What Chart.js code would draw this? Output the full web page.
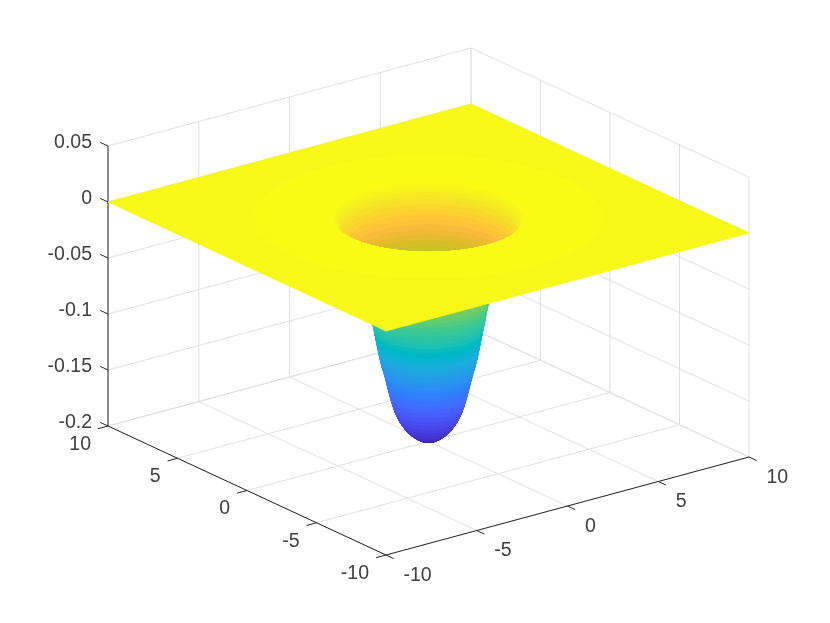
<!DOCTYPE html>
<html>
<head>
<meta charset="utf-8">
<title>Surface</title>
<script src="https://cdn.jsdelivr.net/npm/chart.js@4/dist/chart.umd.js"></script>
<style>
  html, body { margin: 0; padding: 0; background: #fff; }
  canvas { display: block; }
</style>
</head>
<body>
<canvas id="surfaceChart" width="830" height="623"></canvas>
<script>
// tick values and labels
const xTicks = [-10, -5, 0, 5, 10];
const yTicks = [-10, -5, 0, 5, 10];
const zTicks = [-0.2, -0.15, -0.1, -0.05, 0, 0.05];
const xTickLabels = ['-10', '-5', '0', '5', '10'];
const yTickLabels = ['-10', '-5', '0', '5', '10'];
const zTickLabels = ['-0.2', '-0.15', '-0.1', '-0.05', '0', '0.05'];

const ringRadius = [
  0, 0.4, 0.58, 0.84, 1.03, 1.18, 1.3, 1.4, 1.48, 1.55, 1.61, 1.67, 1.72, 1.77,
  1.82, 1.87, 1.92, 1.98, 2.04, 2.09, 2.14, 2.18, 2.22, 2.26, 2.3, 2.34, 2.38,
  2.42, 2.46, 2.495, 2.53, 2.575, 2.62, 2.66, 2.7, 2.76, 2.83, 2.93, 3.03, 3.12,
  3.26, 3.34, 3.42, 3.5, 3.57, 3.64, 3.7, 3.78, 3.86, 3.92, 3.99, 4.05, 4.11,
  4.17, 4.25, 4.5, 7.6
];
const ringHeight = [
  -0.2, -0.198, -0.196, -0.192, -0.188, -0.184, -0.18, -0.176, -0.172, -0.168,
  -0.164, -0.16, -0.156, -0.152, -0.148, -0.144, -0.14, -0.136, -0.132, -0.128,
  -0.124, -0.12, -0.116, -0.112, -0.108, -0.104, -0.1, -0.096, -0.092, -0.088,
  -0.084, -0.08, -0.076, -0.072, -0.068, -0.064, -0.06, -0.056, -0.052, -0.048,
  -0.044, -0.04, -0.036, -0.032, -0.028, -0.024, -0.02, -0.016, -0.012, -0.009,
  -0.006, -0.004, -0.002, -0.001, -0.0003, 0, 0
];
// level the colour of the outer flat part is taken from
const sheetLevel = -0.0015;

// parula, 64 steps
const parula = [
  [0.2422, 0.1504, 0.6603], [0.2504, 0.165, 0.7076], [0.2578, 0.1818, 0.7511], [0.2647, 0.1978, 0.7952],
  [0.2706, 0.2147, 0.8364], [0.2751, 0.2342, 0.871], [0.2783, 0.2559, 0.8991], [0.2803, 0.2782, 0.9221],
  [0.2813, 0.3006, 0.9414], [0.281, 0.3228, 0.9579], [0.2795, 0.3447, 0.9717], [0.276, 0.3667, 0.9829],
  [0.2699, 0.3892, 0.9906], [0.2602, 0.4123, 0.9952], [0.244, 0.4358, 0.9988], [0.2206, 0.4603, 0.9973],
  [0.1963, 0.4847, 0.9892], [0.1834, 0.5074, 0.9798], [0.1786, 0.5289, 0.9682], [0.1764, 0.5499, 0.952],
  [0.1687, 0.5703, 0.9359], [0.154, 0.5902, 0.9218], [0.146, 0.6091, 0.9079], [0.138, 0.6276, 0.8973],
  [0.1248, 0.6459, 0.8883], [0.1113, 0.6635, 0.8763], [0.0952, 0.6798, 0.8598], [0.0689, 0.6948, 0.8394],
  [0.0297, 0.7082, 0.8163], [0.0036, 0.7203, 0.7917], [0.0067, 0.7312, 0.766], [0.0433, 0.7411, 0.7394],
  [0.0964, 0.75, 0.712], [0.1408, 0.7584, 0.6842], [0.1717, 0.767, 0.6554], [0.1938, 0.7758, 0.6251],
  [0.2161, 0.7843, 0.5923], [0.247, 0.7918, 0.5567], [0.2906, 0.7973, 0.5188], [0.3406, 0.8008, 0.4789],
  [0.3909, 0.8029, 0.4354], [0.4456, 0.8024, 0.3909], [0.5044, 0.7993, 0.348], [0.5616, 0.7942, 0.3045],
  [0.6174, 0.7876, 0.2612], [0.672, 0.7793, 0.2227], [0.7242, 0.7698, 0.191], [0.7738, 0.7598, 0.1646],
  [0.8203, 0.7498, 0.1535], [0.8634, 0.7406, 0.1596], [0.9035, 0.733, 0.1774], [0.9393, 0.7288, 0.21],
  [0.9728, 0.7298, 0.2394], [0.9956, 0.7434, 0.2371], [0.997, 0.7659, 0.2199], [0.9952, 0.7893, 0.2028],
  [0.9892, 0.8136, 0.1885], [0.9786, 0.8386, 0.1766], [0.9676, 0.8639, 0.1643], [0.961, 0.889, 0.1537],
  [0.9597, 0.9135, 0.1423], [0.9628, 0.9373, 0.1265], [0.9691, 0.9606, 0.1064], [0.9769, 0.9839, 0.0805]
];

const ZMIN = -0.2;
const ZMAX = 0.05;
const LIMIT = 10;
const ARC_STEPS = 48;
const GRID_COLOR = '#e0e0e0';
const AXIS_COLOR = '#262626';
const TICK_LENGTH = 0.55;

// view of the box, fixed by its corners in the picture
function project(x, y, z) {
  return {
    x: 428.5 + x * 18.15 - y * 13.9,
    y: 217.5 - x * 4.9 - y * 6.45 - z * 1120,
  };
}

function colorFor(z) {
  const t = Math.min(1, Math.max(0, (z - ZMIN) / -ZMIN)) * (parula.length - 1);
  const i = Math.min(parula.length - 2, Math.floor(t));
  const f = t - i;
  const c = parula[i].map((v, k) => Math.round((v + (parula[i + 1][k] - v) * f) * 255));
  return `rgb(${c[0]}, ${c[1]}, ${c[2]})`;
}

function lineDataset(a, b, color, width) {
  return {
    data: [project(...a), project(...b)],
    showLine: true,
    fill: false,
    borderColor: color,
    borderWidth: width,
    pointRadius: 0,
    clip: false,
  };
}

function shapeDataset(points, color) {
  return {
    data: points,
    showLine: true,
    fill: 'shape',
    backgroundColor: color,
    borderColor: color,
    borderWidth: 0.8,
    // a dash longer than the path keeps Chart.js off its fast path, which
    // rounds x to whole pixels and makes the edges of the well rough
    borderDash: [100000],
    pointRadius: 0,
    clip: false,
  };
}

// the line through the middle, square to the view: everything is split on it
const splitAngle = Math.atan2(-13.9, 18.15);

function arc(radius, z, from) {
  const pts = [];
  for (let i = 0; i <= ARC_STEPS; i++) {
    const a = from + (Math.PI * i) / ARC_STEPS;
    pts.push(project(radius * Math.cos(a), radius * Math.sin(a), z));
  }
  return pts;
}

function signedArea(q) {
  let sum = 0;
  q.forEach((p, i) => {
    const n = q[(i + 1) % q.length];
    sum += p.x * n.y - n.x * p.y;
  });
  return sum;
}

// One ring band as a single path of quads, all wound the same way, so the
// fill is their union even where the ring folds over at the silhouette.
function bandDataset(i, from) {
  const outer = arc(ringRadius[i + 1], ringHeight[i + 1], from);
  const inner = arc(ringRadius[i], ringHeight[i], from);
  const path = [];
  for (let k = 0; k < ARC_STEPS; k++) {
    const q = [outer[k], outer[k + 1], inner[k + 1], inner[k]];
    if (signedArea(q) < 0) q.reverse();
    path.push(...q, q[0]);
  }
  // back along the links so they add nothing to the fill
  for (let k = path.length - 6; k >= 0; k -= 5) path.push(path[k]);
  return shapeDataset(path, colorFor((ringHeight[i] + ringHeight[i + 1]) / 2));
}

function sheetDataset(from) {
  const sx = Math.cos(from) > 0 ? 1 : -1;
  const start = [sx * LIMIT, sx * LIMIT * Math.tan(splitAngle)];
  const corners = sx > 0
    ? [[LIMIT, LIMIT], [-LIMIT, LIMIT]]
    : [[-LIMIT, -LIMIT], [LIMIT, -LIMIT]];
  const end = [-start[0], -start[1]];
  const rim = arc(ringRadius[ringRadius.length - 1], 0, from).reverse();
  const outline = [start, ...corners, end].map(p => project(p[0], p[1], 0));
  return shapeDataset([...outline, ...rim, outline[0]], colorFor(sheetLevel));
}

function buildDatasets() {
  const list = [];

  // back walls and floor
  zTicks.forEach(z => {
    list.push(lineDataset([-LIMIT, LIMIT, z], [LIMIT, LIMIT, z], GRID_COLOR, 1));
    list.push(lineDataset([LIMIT, LIMIT, z], [LIMIT, -LIMIT, z], GRID_COLOR, 1));
  });
  xTicks.forEach(x => {
    list.push(lineDataset([x, LIMIT, ZMIN], [x, LIMIT, ZMAX], GRID_COLOR, 1));
    list.push(lineDataset([x, -LIMIT, ZMIN], [x, LIMIT, ZMIN], GRID_COLOR, 1));
  });
  yTicks.forEach(y => {
    list.push(lineDataset([LIMIT, y, ZMIN], [LIMIT, y, ZMAX], GRID_COLOR, 1));
    list.push(lineDataset([-LIMIT, y, ZMIN], [LIMIT, y, ZMIN], GRID_COLOR, 1));
  });

  // axes and tick marks
  list.push(lineDataset([-LIMIT, LIMIT, ZMIN], [-LIMIT, LIMIT, ZMAX], AXIS_COLOR, 1));
  list.push(lineDataset([-LIMIT, -LIMIT, ZMIN], [-LIMIT, LIMIT, ZMIN], AXIS_COLOR, 1));
  list.push(lineDataset([-LIMIT, -LIMIT, ZMIN], [LIMIT, -LIMIT, ZMIN], AXIS_COLOR, 1));
  xTicks.forEach(x => {
    list.push(lineDataset([x, -LIMIT, ZMIN], [x, -LIMIT - TICK_LENGTH, ZMIN], AXIS_COLOR, 1));
  });
  yTicks.forEach(y => {
    list.push(lineDataset([-LIMIT, y, ZMIN], [-LIMIT - TICK_LENGTH, y, ZMIN], AXIS_COLOR, 1));
  });
  zTicks.forEach(z => {
    list.push(lineDataset([-LIMIT, LIMIT, z], [-LIMIT, LIMIT + TICK_LENGTH, z], AXIS_COLOR, 1));
  });

  // surface, far to near along the view
  const last = ringRadius.length - 2;
  list.push(sheetDataset(splitAngle));
  for (let i = last; i >= 0; i--) list.push(bandDataset(i, splitAngle));
  for (let i = 0; i <= last; i++) list.push(bandDataset(i, splitAngle + Math.PI));
  list.push(sheetDataset(splitAngle + Math.PI));

  // the first dataset is painted on top, so hand them over reversed
  return list.reverse();
}

// tick labels
const tickLabelPlugin = {
  id: 'tickLabels',
  afterDatasetsDraw(chart) {
    const { ctx, scales } = chart;
    const put = (text, p, dx, dy, align) => {
      ctx.textAlign = align;
      ctx.fillText(text, scales.x.getPixelForValue(p.x) + dx, scales.y.getPixelForValue(p.y) + dy);
    };
    ctx.save();
    ctx.font = '19.5px "Liberation Sans"';
    ctx.fillStyle = '#404040';
    ctx.textBaseline = 'middle';
    xTicks.forEach((x, i) => put(xTickLabels[i], project(x, -LIMIT, ZMIN), 17.5, 20.5, 'left'));
    yTicks.forEach((y, i) => put(yTickLabels[i], project(-LIMIT, y, ZMIN), -17, 18.5, 'right'));
    zTicks.forEach((z, i) => put(zTickLabels[i], project(-LIMIT, LIMIT, z), -16, -3, 'right'));
    ctx.restore();
  },
};

new Chart(document.getElementById('surfaceChart'), {
  type: 'scatter',
  data: { datasets: buildDatasets() },
  options: {
    responsive: false,
    animation: false,
    events: [],
    layout: { padding: 0 },
    plugins: { legend: { display: false }, tooltip: { enabled: false } },
    scales: {
      x: { type: 'linear', display: false, min: 0, max: 830 },
      y: { type: 'linear', display: false, min: 0, max: 623, reverse: true },
    },
  },
  plugins: [tickLabelPlugin],
});
</script>
</body>
</html>
